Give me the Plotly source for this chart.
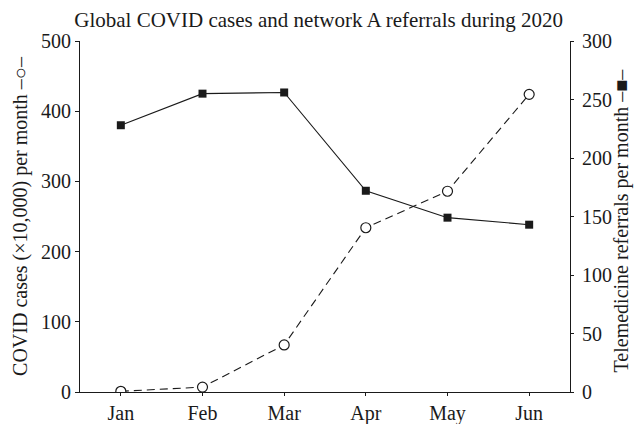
import plotly.graph_objects as go
from plotly.subplots import make_subplots

months = ["Jan", "Feb", "Mar", "Apr", "May", "Jun"]
covid_cases = [1, 7, 67, 234, 286, 424]
referrals = [228, 255, 256, 172, 149, 143]
left_ticks = [0, 100, 200, 300, 400, 500]
right_ticks = [0, 50, 100, 150, 200, 250, 300]

FONT = "Liberation Serif, Times New Roman, serif"
INK = "#1a1a1a"

fig = make_subplots(specs=[[{"secondary_y": True}]])

fig.add_trace(go.Scatter(
    x=list(range(len(months))), y=covid_cases, mode="lines+markers",
    line=dict(color=INK, width=1.1, dash="8px,5px"),
    marker=dict(symbol="circle", size=10, color="white", line=dict(color=INK, width=1.2)),
    showlegend=False), secondary_y=False)

fig.add_trace(go.Scatter(
    x=list(range(len(months))), y=referrals, mode="lines+markers",
    line=dict(color=INK, width=1.1),
    marker=dict(symbol="square", size=8, color=INK, line=dict(color=INK, width=0)),
    showlegend=False), secondary_y=True)

# page has an 8px body margin, so the figure is sized to the visible area
fig.update_layout(
    width=634, height=416,
    margin=dict(l=72, r=72, t=33, b=32),
    paper_bgcolor="white", plot_bgcolor="white",
    font=dict(family=FONT, size=20, color=INK),
    title=dict(text="Global COVID cases and network A referrals during 2020",
               x=0.49, xanchor="center", xref="container", y=1 - 12 / 416, yanchor="middle",
               font=dict(family=FONT, size=21, color=INK)),
)

# right-hand axis title as a rotated annotation so it stays fully inside the page
fig.add_annotation(
    text="Telemedicine referrals per month –■–", textangle=-90,
    xref="paper", yref="paper", x=1.105, y=0.49, xanchor="center", yanchor="middle",
    showarrow=False, font=dict(family=FONT, size=20, color=INK))

fig.update_xaxes(
    domain=[0, 1], automargin=False,
    range=[-0.5, 5.5], tickmode="array", tickvals=list(range(len(months))), ticktext=months,
    showline=True, linecolor=INK, linewidth=1.2, ticks="outside", ticklen=3, tickcolor=INK,
    showgrid=False, zeroline=False, tickfont=dict(size=20))

fig.update_yaxes(
    automargin=False,
    range=[0, 500], tickmode="array", tickvals=left_ticks,
    showline=True, linecolor=INK, linewidth=1.2, ticks="outside", ticklen=4, tickcolor=INK,
    showgrid=False, zeroline=False, tickfont=dict(size=20),
    title=dict(text="COVID cases (×10,000) per month –○–", font=dict(size=20), standoff=7),
    secondary_y=False)

fig.update_yaxes(
    automargin=False,
    range=[0, 300], tickmode="array", tickvals=right_ticks,
    showline=True, linecolor=INK, linewidth=1.2, ticks="outside", ticklen=3, tickcolor=INK,
    ticklabelstandoff=4,
    showgrid=False, zeroline=False, tickfont=dict(size=20),
    secondary_y=True)

fig.write_html("out.html")
